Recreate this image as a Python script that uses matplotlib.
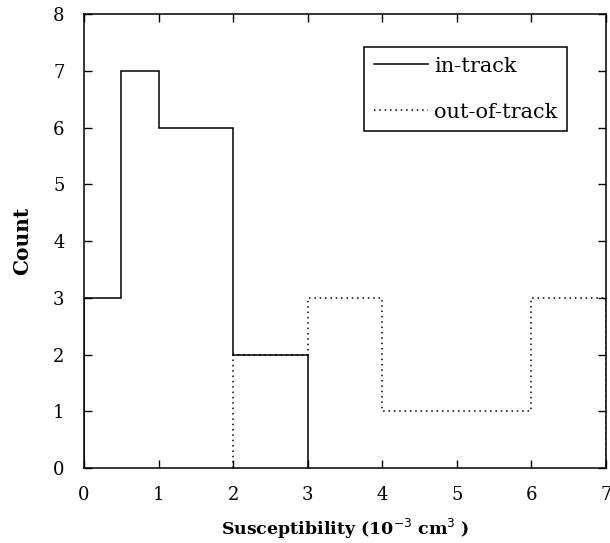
import matplotlib
matplotlib.use('Agg')
import matplotlib.pyplot as plt

# histogram data
in_edges = [0, 0.5, 1, 2, 3]
in_counts = [3, 7, 6, 2]
out_edges = [2, 3, 4, 6, 7]
out_counts = [2, 3, 1, 3]

x_ticks = [0, 1, 2, 3, 4, 5, 6, 7]
y_ticks = [0, 1, 2, 3, 4, 5, 6, 7, 8]

plt.rcParams['font.family'] = 'DejaVu Serif'

fig = plt.figure(figsize=(6.1, 5.43), dpi=100)
ax = fig.add_axes([0.1377, 0.138, 0.8557, 0.836])

ax.stairs(in_counts, in_edges, color='black', linewidth=1.1, label='in-track')
ax.stairs(out_counts, out_edges, color='black', linewidth=1.1,
          linestyle=(0, (1, 2.5)), label='out-of-track')

ax.set_xlim(0, 7)
ax.set_ylim(0, 8)
ax.set_xticks(x_ticks)
ax.set_yticks(y_ticks)
ax.tick_params(direction='in', top=True, right=True, length=6, width=1,
               labelsize=13)
ax.tick_params(axis='y', pad=14)
ax.tick_params(axis='x', pad=13)
for s in ax.spines.values():
    s.set_linewidth(1.1)

ax.set_xlabel('Susceptibility (10$^{-3}$ cm$^3$ )', fontsize=12.5,
              fontweight='bold', labelpad=9)
ax.set_ylabel('Count', fontsize=14.5, fontweight='bold', labelpad=15)

leg = ax.legend(loc='upper right', bbox_to_anchor=(0.925, 0.927),
                borderaxespad=0, fontsize=15, handlelength=2.6,
                labelspacing=1.3, fancybox=False, framealpha=1,
                edgecolor='black', borderpad=0.45, handletextpad=0.3)
leg.get_frame().set_linewidth(1.1)

fig.savefig('out.png', dpi=100)
